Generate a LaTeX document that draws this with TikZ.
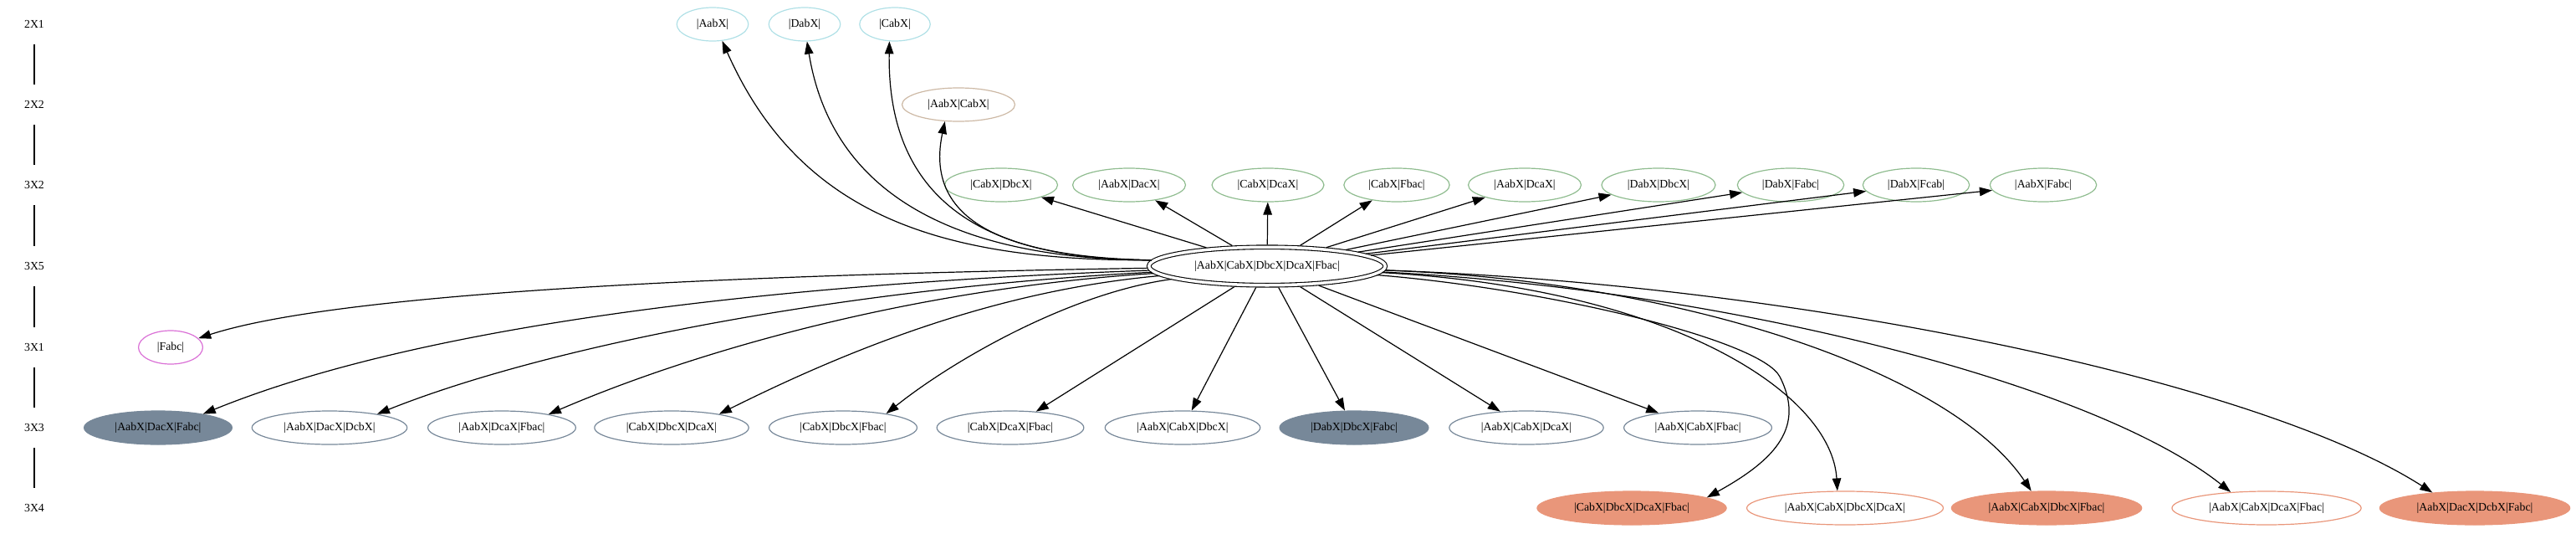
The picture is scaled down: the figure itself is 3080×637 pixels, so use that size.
\documentclass[tikz,border=0pt]{standalone}
\usepackage{fontspec}
\setmainfont{Liberation Serif}
\usetikzlibrary{shapes.geometric,arrows.meta}
\definecolor{cy}{HTML}{B0E0E6}
\definecolor{tn}{HTML}{CDB9A5}
\definecolor{gr}{HTML}{8FBC8F}
\definecolor{orc}{HTML}{DA70D6}
\definecolor{slg}{HTML}{778899}
\definecolor{sal}{HTML}{E9967A}
\begin{document}
\begin{tikzpicture}[x=1pt,y=1pt,
  every node/.style={font=\fontsize{13.8}{16}\selectfont},
  nd/.style={ellipse, draw, line width=1.2pt, inner xsep=11pt, minimum height=40pt},
  cyn/.style={nd, draw=cy},
  tnn/.style={nd, draw=tn},
  grn/.style={nd, draw=gr},
  orn/.style={nd, draw=orc},
  sln/.style={nd, draw=slg},
  slf/.style={nd, draw=slg, fill=slg},
  san/.style={nd, draw=sal},
  saf/.style={nd, draw=sal, fill=sal},
  cnode/.style={ellipse, draw, double, double distance=3.5pt, line width=1.1pt, inner xsep=13pt, minimum height=45.5pt, outer sep=2.85pt},
  rk/.style={inner sep=0pt, minimum height=48pt},
  rl/.style={line width=1.2pt},
  arr/.style={line width=1.2pt, -{Triangle[length=15pt,width=10.5pt]}}
]
\useasboundingbox (0,0) rectangle (3080,-637);
% rank labels
\node[rk] (r1) at (41,-29) {2X1};
\node[rk] (r2) at (41,-125) {2X2};
\node[rk] (r3) at (41,-221) {3X2};
\node[rk] (r4) at (41,-318) {3X5};
\node[rk] (r5) at (41,-415) {3X1};
\node[rk] (r6) at (41,-511) {3X3};
\node[rk] (r7) at (41,-607) {3X4};
\draw[rl] (r1) -- (r2);
\draw[rl] (r2) -- (r3);
\draw[rl] (r3) -- (r4);
\draw[rl] (r4) -- (r5);
\draw[rl] (r5) -- (r6);
\draw[rl] (r6) -- (r7);
% center
\node[cnode] (c) at (1515,-318) {|AabX|CabX|DbcX|DcaX|Fbac|};
% 2X1
\node[cyn] (a1) at (852,-29) {|AabX|};
\node[cyn] (a2) at (962,-29) {|DabX|};
\node[cyn] (a3) at (1070,-29) {|CabX|};
% 2X2
\node[tnn] (b1) at (1146,-125) {|AabX|CabX|};
% 3X2
\node[grn] (d1) at (1197,-221) {|CabX|DbcX|};
\node[grn] (d2) at (1350,-221) {|AabX|DacX|};
\node[grn] (d3) at (1516,-221) {|CabX|DcaX|};
\node[grn] (d4) at (1670,-221) {|CabX|Fbac|};
\node[grn] (d5) at (1823,-221) {|AabX|DcaX|};
\node[grn] (d6) at (1983,-221) {|DabX|DbcX|};
\node[grn] (d7) at (2141,-221) {|DabX|Fabc|};
\node[grn] (d8) at (2291,-221) {|DabX|Fcab|};
\node[grn] (d9) at (2443,-221) {|AabX|Fabc|};
% 3X1
\node[orn] (f) at (204,-415) {|Fabc|};
% 3X3
\node[slf] (e1) at (189,-511) {|AabX|DacX|Fabc|};
\node[sln] (e2) at (394,-511) {|AabX|DacX|DcbX|};
\node[sln] (e3) at (600,-511) {|AabX|DcaX|Fbac|};
\node[sln] (e4) at (803,-511) {|CabX|DbcX|DcaX|};
\node[sln] (e5) at (1008,-511) {|CabX|DbcX|Fbac|};
\node[sln] (e6) at (1208,-511) {|CabX|DcaX|Fbac|};
\node[sln] (e7) at (1414,-511) {|AabX|CabX|DbcX|};
\node[slf] (e8) at (1619,-511) {|DabX|DbcX|Fabc|};
\node[sln] (e9) at (1825,-511) {|AabX|CabX|DcaX|};
\node[sln] (e10) at (2030,-511) {|AabX|CabX|Fbac|};
% 3X4
\node[saf] (g1) at (1951,-607) {|CabX|DbcX|DcaX|Fbac|};
\node[san] (g2) at (2206,-607) {|AabX|CabX|DbcX|DcaX|};
\node[saf] (g3) at (2447,-607) {|AabX|CabX|DbcX|Fbac|};
\node[san] (g4) at (2710,-607) {|AabX|CabX|DcaX|Fbac|};
\node[saf] (g5) at (2959,-607) {|AabX|DacX|DcbX|Fabc|};
% edges up-left
\draw[arr] (c.177) .. controls (1120,-312) and (955,-255) .. (a1.-60);
\draw[arr] (c.177) .. controls (1200,-310) and (1000,-265) .. (a2.-82);
\draw[arr] (c.177) .. controls (1230,-310) and (1060,-275) .. (a3.-108);
\draw[arr] (c.177) .. controls (1250,-308) and (1100,-285) .. (b1.-129);
% edges to 3X2
\foreach \t in {d1,d2,d3,d4,d5,d6,d7,d8,d9} \draw[arr] (c) -- (\t);
% edge to 3X1
\draw[arr] (c) .. controls (900,-328) and (410,-348) .. (f);
% edges to 3X3
\draw[arr] (c) .. controls (900,-340) and (495,-392) .. (e1.17);
\draw[arr] (c) .. controls (1000,-345) and (650,-415) .. (e2.16);
\draw[arr] (c) .. controls (1090,-345) and (830,-420) .. (e3.16);
\draw[arr] (c) .. controls (1180,-348) and (1000,-425) .. (e4.16);
\draw[arr] (c) .. controls (1280,-350) and (1140,-430) .. (e5.18);
\foreach \t in {e6,e7,e8,e9,e10} \draw[arr] (c) -- (\t);
% edges to 3X4
\draw[arr] (c) .. controls (1850,-345) and (2105,-406) .. (2128,-450) .. controls (2158,-509) and (2125,-548) .. (g1.8);
\draw[arr] (c) .. controls (2000,-345) and (2190,-470) .. (g2.114);
\draw[arr] (c) .. controls (2000,-335) and (2330,-440) .. (g3.132);
\draw[arr] (c) .. controls (2050,-345) and (2500,-455) .. (g4.156);
\draw[arr] (c) .. controls (2150,-340) and (2700,-455) .. (g5.160);
\end{tikzpicture}
\end{document}
